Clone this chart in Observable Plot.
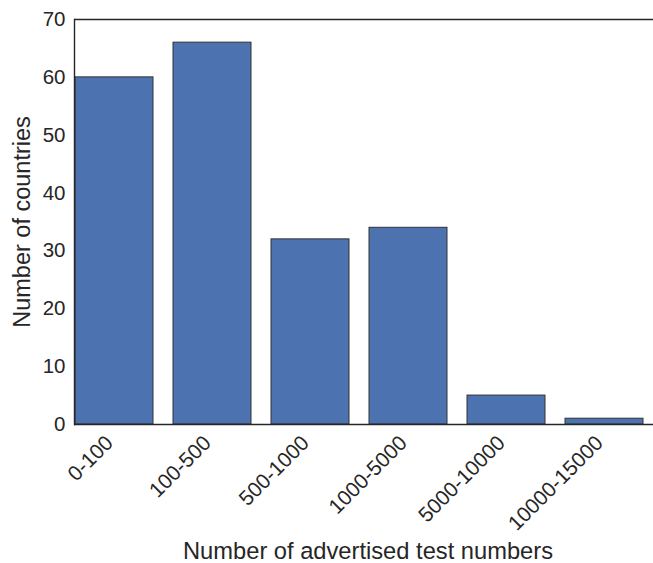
<!DOCTYPE html>
<html><head><meta charset="utf-8">
<script src="https://cdn.jsdelivr.net/npm/d3@7"></script>
<script src="https://cdn.jsdelivr.net/npm/@observablehq/plot@0.6"></script>
<style>body{margin:0;background:#fff} svg{display:block}</style>
</head><body><div id="chart"></div>
<script>
const categories = ["0-100","100-500","500-1000","1000-5000","5000-10000","10000-15000"];
const counts = [60, 66, 32, 34, 5, 1];
const yTicks = [0, 10, 20, 30, 40, 50, 60, 70];
const xLabel = "Number of advertised test numbers";
const yLabel = "Number of countries";

const data = categories.map((c, i) => ({range: c, count: counts[i]}));
const ink = "#262626";

const chart = Plot.plot({
  width: 653,
  height: 563,
  marginLeft: 74,
  marginRight: 0,
  marginTop: 19,
  marginBottom: 139,
  style: {fontFamily: "'Liberation Sans', Arial, sans-serif", fontSize: "20.5px", color: ink, background: "#fff"},
  x: {domain: categories, range: [64.2, 654.2], paddingInner: 0.2, paddingOuter: 0.1},
  y: {domain: [0, 70]},
  marks: [
    Plot.barY(data, {x: "range", y: "count", fill: "#4c72b0", stroke: "#333", strokeWidth: 1}),
    Plot.frame({anchor: "left", stroke: ink, strokeWidth: 1.4}),
    Plot.ruleY([0, 70], {stroke: ink, strokeWidth: 1.4}),
    Plot.axisY({ticks: yTicks, tickSize: 0, tickPadding: 9, label: null, fontSize: 20.5, fill: ink}),
    Plot.axisX({tickSize: 0, tickPadding: 15, dx: -5, tickRotate: -45, label: null, fontSize: 21, fill: ink}),
    Plot.text([yLabel], {frameAnchor: "left", textAnchor: "middle", dx: -52, rotate: -90, fontSize: 23.5, fill: ink}),
    Plot.text([xLabel], {frameAnchor: "bottom", dy: 134, dx: 4, fontSize: 23.7, fill: ink})
  ]
});
document.getElementById("chart").appendChild(chart);
</script>
</body></html>
